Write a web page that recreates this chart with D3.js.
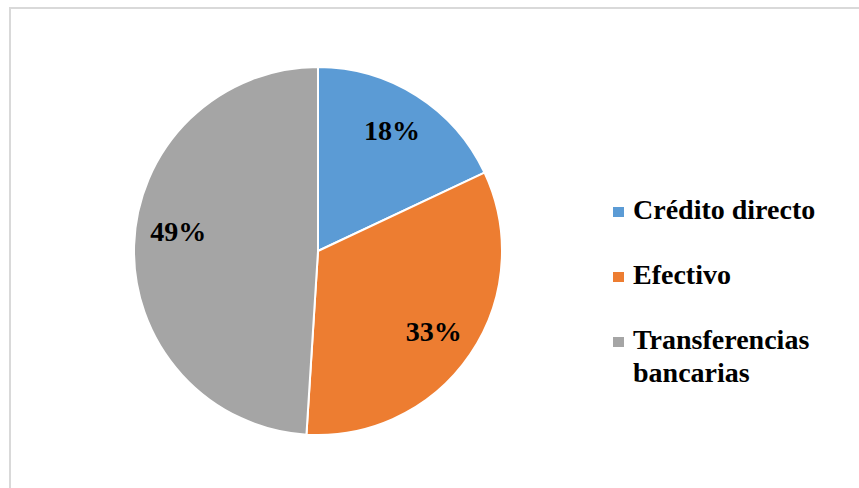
<!DOCTYPE html>
<html>
<head>
<meta charset="utf-8">
<script src="https://cdn.jsdelivr.net/npm/d3@7"></script>
<style>
  html, body { margin: 0; padding: 0; background: #fff; }
  svg { display: block; }
  .serif { font-family: "Liberation Serif", "Times New Roman", Times, Tinos, "DejaVu Serif", serif; font-weight: bold; }
</style>
</head>
<body>
<svg id="chart" width="859" height="488"></svg>
<script>
// Payment methods and their shares (%)
const categories = ["Crédito directo", "Efectivo", "Transferencias bancarias"];
const values = [18, 33, 49];
const colors = ["#5b9bd5", "#ed7d31", "#a5a5a5"];
const legendLines = [["Crédito directo"], ["Efectivo"], ["Transferencias", "bancarias"]];

const svg = d3.select("#chart");
const W = 859, H = 488;

// chart area frame (open on right/bottom edges)
svg.append("rect")
  .attr("x", 10).attr("y", 8)
  .attr("width", W + 10).attr("height", H + 10)
  .attr("fill", "#fff")
  .attr("stroke", "#d9d9d9")
  .attr("stroke-width", 2);

const cx = 318, cy = 251, R = 184;
const g = svg.append("g").attr("transform", `translate(${cx},${cy})`);

const pie = d3.pie().sort(null).value(d => d.value);
const data = pie(categories.map((c, i) => ({ name: c, value: values[i], color: colors[i] })));

const arc = d3.arc().innerRadius(0).outerRadius(R);
const labelArc = d3.arc().innerRadius(R * 0.76).outerRadius(R * 0.76);

g.selectAll("path.slice")
  .data(data)
  .join("path")
  .attr("class", "slice")
  .attr("d", arc)
  .attr("fill", d => d.data.color)
  .attr("stroke", "#fff")
  .attr("stroke-width", 2)
  .attr("stroke-linejoin", "round");

// label nudges keep text clear of slice edges
const labelNudge = [[-1, -2], [0, 2], [0, -15]];
g.selectAll("text.pct")
  .data(data)
  .join("text")
  .attr("class", "pct serif")
  .attr("x", (d, i) => labelArc.centroid(d)[0] + labelNudge[i][0])
  .attr("y", (d, i) => labelArc.centroid(d)[1] + labelNudge[i][1])
  .attr("text-anchor", "middle")
  .attr("dominant-baseline", "central")
  .attr("font-size", 28)
  .attr("fill", "#000")
  .text(d => d.data.value + "%");

// legend
const legendX = 613, legendY0 = 219, legendStep = 65, lineH = 33;
const leg = svg.append("g");
const items = leg.selectAll("g.item")
  .data(data)
  .join("g")
  .attr("class", "item")
  .attr("transform", (d, i) => `translate(${legendX},${legendY0 + i * legendStep})`);

items.append("rect")
  .attr("x", 0).attr("y", -12)
  .attr("width", 11).attr("height", 10)
  .attr("fill", d => d.data.color);

items.append("text")
  .attr("class", "serif")
  .attr("x", 20).attr("y", 0)
  .attr("font-size", 28)
  .attr("fill", "#000")
  .selectAll("tspan")
  .data((d, i) => legendLines[i])
  .join("tspan")
  .attr("x", 20)
  .attr("dy", (t, j) => j === 0 ? 0 : lineH)
  .text(t => t);
</script>
</body>
</html>
